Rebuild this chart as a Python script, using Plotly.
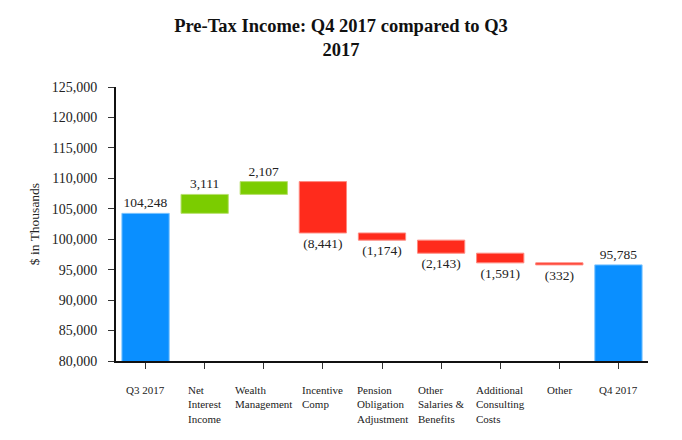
import plotly.graph_objects as go

categories = ["Q3 2017", "Net<br>Interest<br>Income", "Wealth<br>Management", "Incentive<br>Comp",
              "Pension<br>Obligation<br>Adjustment", "Other<br>Salaries &<br>Benefits",
              "Additional<br>Consulting<br>Costs", "Other", "Q4 2017"]
values = [104248, 3111, 2107, -8441, -1174, -2143, -1591, -332, 95785]
measures = ["absolute", "relative", "relative", "relative", "relative", "relative", "relative", "relative", "total"]

BLUE = "#0A8FFF"
GREEN = "#7BCC00"
RED = "#FF2B1C"
FONT = "Liberation Serif"

labels = [f"({abs(v):,})" if v < 0 else f"{v:,}" for v in values]
x = list(range(len(categories)))

fig = go.Figure(go.Waterfall(
    x=x, y=values, measure=measures, base=0,
    text=labels, textposition="outside",
    textfont=dict(family=FONT, size=13.5, color="#222"),
    cliponaxis=False,
    connector=dict(visible=False),
    increasing=dict(marker=dict(color=GREEN, line=dict(color="#B8E070", width=1))),
    decreasing=dict(marker=dict(color=RED, line=dict(color="#FF8A80", width=1))),
    totals=dict(marker=dict(color=BLUE, line=dict(color="#7CC4FF", width=1))),
    hoverinfo="skip",
))

for i, c in enumerate(categories):
    fig.add_annotation(x=i, y=0, xref="x", yref="paper", yanchor="top", yshift=-21,
                       text=c, showarrow=False, align="left", xanchor="center",
                       font=dict(family=FONT, size=11, color="#222"))

fig.update_layout(
    width=682, height=440,
    margin=dict(l=116, r=34, t=87, b=79),
    paper_bgcolor="white", plot_bgcolor="white",
    showlegend=False, bargap=0.2,
    title=dict(text="<b>Pre-Tax Income: Q4 2017 compared to Q3<br>2017</b>",
               x=0.5, xanchor="center", y=0.928, yanchor="top",
               font=dict(family=FONT, size=18.5, color="#111")),
    font=dict(family=FONT, color="#222"),
)
fig.update_xaxes(range=[-0.5, 8.5], tickvals=x, showticklabels=False, ticks="outside",
                 ticklen=6, tickcolor="#333", showline=True, linecolor="#111", linewidth=2,
                 showgrid=False, zeroline=False)
fig.update_yaxes(range=[80000, 125000], dtick=5000, tickformat=",", ticks="outside",
                 ticklen=6, tickcolor="#333", showline=True, linecolor="#111", linewidth=2,
                 showgrid=False, zeroline=False, ticklabelstandoff=8,
                 tickfont=dict(family=FONT, size=14, color="#222"),
                 title=dict(text="$ in Thousands", font=dict(family=FONT, size=13.5, color="#222"), standoff=9))

fig.write_html("out.html", config={"displayModeBar": False},
               post_script="document.body.style.margin='0';")
